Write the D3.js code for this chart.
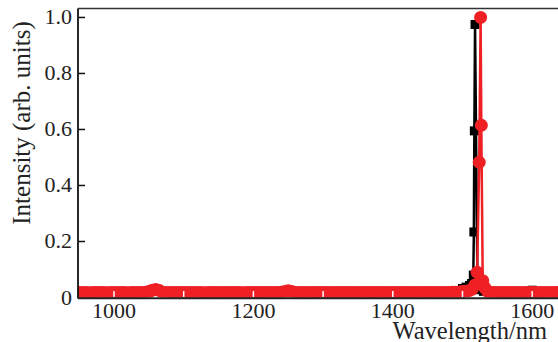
<!DOCTYPE html>
<html>
<head>
<meta charset="utf-8">
<script src="https://cdn.jsdelivr.net/npm/d3@7/dist/d3.min.js"></script>
<style>
  body { margin: 0; background: #fff; }
  text { font-family: "Liberation Serif", "Times New Roman", serif; fill: #222; }
</style>
</head>
<body>
<script>
// samples (nm, arb. units)
var blackWl = [950, 970, 990, 1010, 1030, 1050, 1070, 1090, 1110, 1130, 1150, 1170, 1190,
               1210, 1230, 1250, 1270, 1290, 1310, 1330, 1350, 1370, 1390, 1410, 1430, 1450,
               1470, 1490, 1500, 1505, 1510, 1513, 1515.5, 1516.3, 1517, 1518, 1521.5, 1525,
               1530, 1540, 1560, 1580, 1600, 1620, 1650];
var blackVal = [0.016, 0.016, 0.017, 0.016, 0.016, 0.02, 0.017, 0.016, 0.016, 0.016, 0.016, 0.016, 0.016,
                0.016, 0.017, 0.02, 0.016, 0.016, 0.016, 0.016, 0.016, 0.016, 0.016, 0.016, 0.016, 0.017,
                0.018, 0.024, 0.032, 0.037, 0.043, 0.05, 0.08, 0.234, 0.595, 0.975, 0.03, 0.028,
                0.022, 0.02, 0.018, 0.018, 0.026, 0.018, 0.018];

var redWl = [950, 955, 960, 965, 970, 975, 980, 985, 990, 995,
             1000, 1005, 1010, 1015, 1020, 1025, 1030, 1035, 1040, 1045,
             1050, 1055, 1060, 1065, 1070, 1075, 1080, 1085, 1090, 1095,
             1100, 1105, 1110, 1115, 1120, 1125, 1130, 1135, 1140, 1145,
             1150, 1155, 1160, 1165, 1170, 1175, 1180, 1185, 1190, 1195,
             1200, 1205, 1210, 1215, 1220, 1225, 1230, 1235, 1240, 1245,
             1250, 1255, 1260, 1265, 1270, 1275, 1280, 1285, 1290, 1295,
             1300, 1305, 1310, 1315, 1320, 1325, 1330, 1335, 1340, 1345,
             1350, 1355, 1360, 1365, 1370, 1375, 1380, 1385, 1390, 1395,
             1400, 1405, 1410, 1415, 1420, 1425, 1430, 1435, 1440, 1445,
             1450, 1455, 1460, 1465, 1470, 1475, 1480, 1485, 1490, 1495,
             1500, 1505, 1510, 1514, 1518, 1521, 1524, 1526, 1527, 1529, 1532, 1536,
             1540, 1545, 1550, 1555, 1560, 1565, 1570, 1575, 1580, 1585,
             1590, 1595, 1600, 1605, 1610, 1615, 1620, 1625, 1630, 1635,
             1640, 1645, 1650];
var redVal = [0.018, 0.018, 0.018, 0.017, 0.018, 0.018, 0.018, 0.018, 0.017, 0.018,
              0.018, 0.018, 0.018, 0.018, 0.017, 0.018, 0.018, 0.018, 0.018, 0.019,
              0.021, 0.026, 0.029, 0.025, 0.019, 0.018, 0.018, 0.018, 0.018, 0.018,
              0.018, 0.018, 0.018, 0.018, 0.018, 0.018, 0.017, 0.018, 0.018, 0.018,
              0.018, 0.018, 0.018, 0.018, 0.018, 0.018, 0.018, 0.017, 0.018, 0.018,
              0.018, 0.018, 0.018, 0.018, 0.018, 0.018, 0.018, 0.018, 0.019, 0.021,
              0.024, 0.021, 0.018, 0.018, 0.018, 0.018, 0.018, 0.018, 0.018, 0.018,
              0.018, 0.018, 0.018, 0.018, 0.018, 0.018, 0.018, 0.018, 0.018, 0.018,
              0.018, 0.018, 0.018, 0.018, 0.018, 0.018, 0.018, 0.018, 0.018, 0.018,
              0.018, 0.018, 0.018, 0.018, 0.018, 0.018, 0.018, 0.018, 0.018, 0.018,
              0.018, 0.018, 0.018, 0.018, 0.018, 0.018, 0.018, 0.019, 0.019, 0.02,
              0.021, 0.022, 0.025, 0.03, 0.045, 0.09, 0.483, 1.0, 0.615, 0.06, 0.035, 0.022,
              0.019, 0.018, 0.018, 0.018, 0.018, 0.018, 0.018, 0.018, 0.018, 0.018,
              0.018, 0.018, 0.019, 0.018, 0.018, 0.018, 0.018, 0.018, 0.018, 0.018,
              0.018, 0.018, 0.018];

var xTicks = [1000, 1100, 1200, 1300, 1400, 1500, 1600];
var xLabels = [1000, 1200, 1400, 1600];
var yTicks = [0, 0.2, 0.4, 0.6, 0.8, 1.0];

var width = 558, height = 342;
var padLeft = 78, padTop = 8.5, axisY = 297.5;

var svg = d3.select("body")
        .append("svg")
        .attr("width", width)
        .attr("height", height);

var x = d3.scaleLinear().domain([948.35, 1650]).range([padLeft, padLeft + 701.65 * 0.697]);
var y = d3.scaleLinear().domain([0, 1.032]).range([axisY, padTop]);

svg.append("clipPath")
        .attr("id", "plot")
        .append("rect")
        .attr("x", padLeft)
        .attr("y", padTop)
        .attr("width", width - padLeft)
        .attr("height", axisY - padTop);

var black = blackWl.map(function (d, i) { return [d, blackVal[i]]; });
var red = redWl.map(function (d, i) { return [d, redVal[i]]; });

var line = d3.line()
        .x(function (d) { return x(d[0]); })
        .y(function (d) { return y(d[1]); });

var g = svg.append("g").attr("clip-path", "url(#plot)");

// black series
g.append("path")
        .datum(black)
        .attr("d", line)
        .attr("fill", "none")
        .attr("stroke", "#000")
        .attr("stroke-width", 2.5);
g.selectAll(".sq")
        .data(black)
        .enter()
        .append("rect")
        .attr("class", "sq")
        .attr("x", function (d) { return x(d[0]) - 4.5; })
        .attr("y", function (d) { return y(d[1]) - 4.5; })
        .attr("width", 9)
        .attr("height", 9)
        .attr("fill", "#000");

// red series
g.append("path")
        .datum(red)
        .attr("d", line)
        .attr("fill", "none")
        .attr("stroke", "#ee2024")
        .attr("stroke-width", 2.5);
g.selectAll(".dot")
        .data(red)
        .enter()
        .append("circle")
        .attr("class", "dot")
        .attr("cx", function (d) { return x(d[0]); })
        .attr("cy", function (d) { return y(d[1]); })
        .attr("r", 6.5)
        .attr("fill", "#ee2024");

// frame
svg.append("line")
        .attr("x1", padLeft).attr("x2", width)
        .attr("y1", padTop).attr("y2", padTop)
        .attr("stroke", "#333").attr("stroke-width", 1.5);
svg.append("line")
        .attr("x1", padLeft).attr("x2", padLeft)
        .attr("y1", padTop).attr("y2", axisY + 1)
        .attr("stroke", "#111").attr("stroke-width", 1.8);
svg.append("line")
        .attr("x1", padLeft).attr("x2", width)
        .attr("y1", axisY + 0.8).attr("y2", axisY + 0.8)
        .attr("stroke", "#222").attr("stroke-width", 2);

// ticks
svg.selectAll(".xt")
        .data(xTicks)
        .enter()
        .append("line")
        .attr("x1", function (d) { return x(d); })
        .attr("x2", function (d) { return x(d); })
        .attr("y1", axisY - 0.5)
        .attr("y2", axisY - 6.5)
        .attr("stroke", "#fff")
        .attr("stroke-width", 1.5);
svg.selectAll(".yt")
        .data(yTicks.slice(1))
        .enter()
        .append("line")
        .attr("x1", padLeft)
        .attr("x2", padLeft + 7)
        .attr("y1", function (d) { return y(d); })
        .attr("y2", function (d) { return y(d); })
        .attr("stroke", "#111")
        .attr("stroke-width", 1.5);

svg.selectAll(".xl")
        .data(xLabels)
        .enter()
        .append("text")
        .attr("x", function (d) { return x(d); })
        .attr("y", 318)
        .attr("text-anchor", "middle")
        .attr("font-size", 22)
        .text(function (d) { return d; });
svg.selectAll(".yl")
        .data(yTicks)
        .enter()
        .append("text")
        .attr("x", 72)
        .attr("y", function (d) { return y(d) + 7; })
        .attr("text-anchor", "end")
        .attr("font-size", 22)
        .text(function (d) { return d === 0 ? "0" : d.toFixed(1); });

svg.append("text")
        .attr("x", 547)
        .attr("y", 339)
        .attr("text-anchor", "end")
        .attr("font-size", 24.5)
        .text("Wavelength/nm");
svg.append("text")
        .attr("transform", "translate(30,123) rotate(-90)")
        .attr("text-anchor", "middle")
        .attr("font-size", 25)
        .text("Intensity (arb. units)");
</script>
</body>
</html>
